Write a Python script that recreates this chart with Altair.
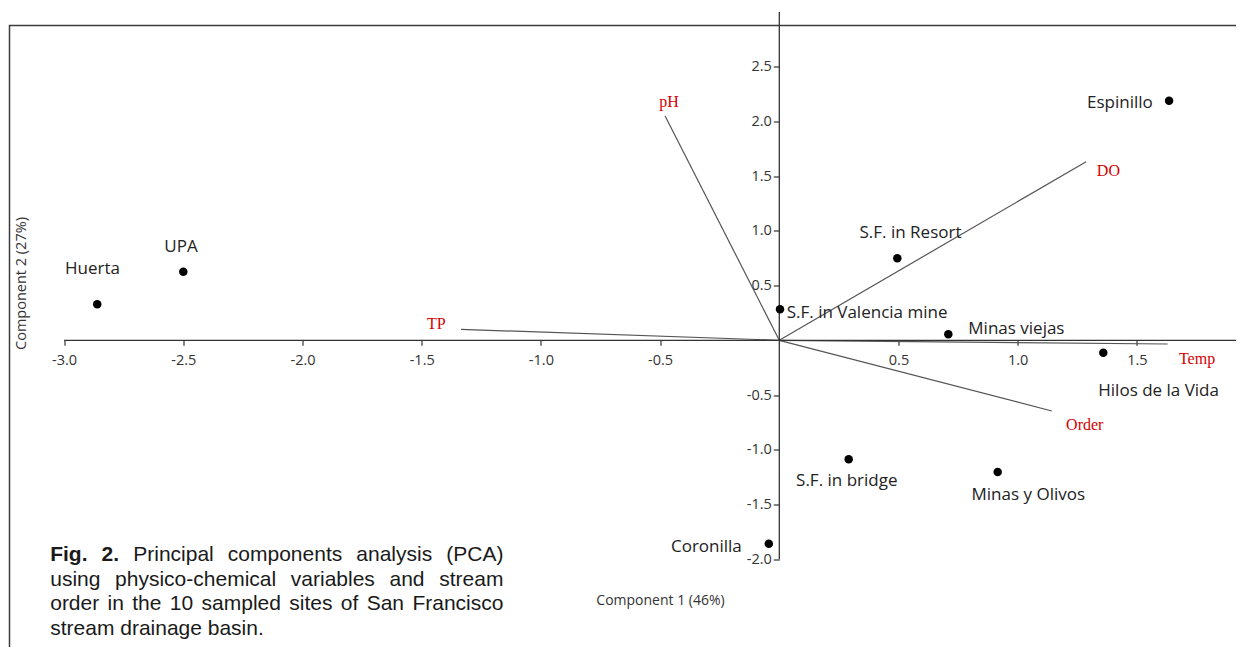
import altair as alt
import pandas as pd

# ---------------- data ----------------
sites = ["Huerta", "UPA", "S.F. in Valencia mine", "S.F. in Resort", "Minas viejas",
         "Espinillo", "Hilos de la Vida", "S.F. in bridge", "Minas y Olivos", "Coronilla"]
site_pc1 = [-2.861, -2.500, 0.003, 0.495, 0.709, 1.635, 1.359, 0.291, 0.916, -0.044]
site_pc2 = [0.329, 0.627, 0.283, 0.749, 0.055, 2.189, -0.113, -1.087, -1.203, -1.859]

variables = ["pH", "DO", "TP", "Temp", "Order"]
var_pc1 = [-0.479, 1.287, -1.335, 1.629, 1.143]
var_pc2 = [2.050, 1.632, 0.100, -0.034, -0.646]

x_ticks = [-3.0, -2.5, -2.0, -1.5, -1.0, -0.5, 0.5, 1.0, 1.5]
y_ticks = [-2.0, -1.5, -1.0, -0.5, 0.5, 1.0, 1.5, 2.0, 2.5]
y_axis_top = 3.0

x_title = "Component 1 (46%)"
y_title = "Component 2 (27%)"

caption_lines = [
    "Fig. 2. Principal components analysis (PCA)",
    "using physico-chemical variables and stream",
    "order in the 10 sampled sites of San Francisco",
    "stream drainage basin.",
]
caption_bold_words = 2

# ---------------- label placement (styling, pixels) ----------------
site_label_style = {
    "Huerta": ("center", -4.8, -35.0),
    "UPA": ("center", -2.3, -25.0),
    "S.F. in Valencia mine": ("left", 6.7, 3.4),
    "S.F. in Resort": ("center", 13.2, -25.0),
    "Minas viejas": ("left", 20.0, -5.0),
    "Espinillo": ("right", -16.3, 2.0),
    "Hilos de la Vida": ("left", -5.0, 38.3),
    "S.F. in bridge": ("center", -1.9, 21.7),
    "Minas y Olivos": ("center", 30.6, 23.0),
    "Coronilla": ("right", -27.0, 3.6),
}
var_label_style = {
    "pH": ("center", 3.8, -14.3),
    "DO": ("left", 10.7, 9.0),
    "TP": ("right", -15.3, -5.0),
    "Temp": ("left", 11.3, 15.3),
    "Order": ("left", 14.3, 14.0),
}

# ---------------- layout ----------------
W, H = 1250, 660            # plot area (frame) - extends past the page edge
SVG_W, SVG_H = 1228, 639
PAD_L, PAD_T = 1.5, 17.5
X0, SX = 769.8, 238.4       # view px of PC1 = 0, px per unit
Y0, SY = 314.8, 109.44      # view px of PC2 = 0, px per unit

x_dom = [-X0 / SX, (W - X0) / SX]
y_dom = [-(H - Y0) / SY, Y0 / SY]
xs = alt.Scale(domain=x_dom, nice=False, zero=False)
ys = alt.Scale(domain=y_dom, nice=False, zero=False)

AX_COLOR = "#333333"
lab_expr = "replace(format(datum.value, '.1f'), '\u2212', '-')"

x_axis = alt.Axis(values=x_ticks, labelExpr=lab_expr, domain=False, grid=False,
                  ticks=True, tickSize=5, tickColor=AX_COLOR, tickWidth=1.2,
                  labelFont="Open Sans", labelFontSize=14.5, labelColor=AX_COLOR,
                  labelPadding=8, labelOverlap=False, labelFlush=False,
                  offset=-(H - Y0),
                  title=x_title, titleFont="Open Sans", titleFontSize=14,
                  titleFontWeight="normal", titleColor=AX_COLOR,
                  titleX=660 - 9.5, titleY=259.7, titleAlign="center",
                  titleBaseline="middle")
y_axis = alt.Axis(values=y_ticks, labelExpr=lab_expr, domain=False, grid=False,
                  ticks=True, tickSize=6, tickColor=AX_COLOR, tickWidth=1.2,
                  labelFont="Open Sans", labelFontSize=14.5, labelColor=AX_COLOR,
                  labelPadding=2, labelOverlap=False, labelFlush=False,
                  offset=-X0,
                  title=y_title, titleFont="Open Sans", titleFontSize=14.5,
                  titleFontWeight="normal", titleColor=AX_COLOR,
                  titleAngle=270, titleX=21 - (X0 + 9.5), titleY=283 - 25.5,
                  titleAlign="center", titleBaseline="middle")


def X(f):
    return alt.X(f, type="quantitative", scale=xs, axis=x_axis)


def Y(f):
    return alt.Y(f, type="quantitative", scale=ys, axis=y_axis)


sites_df = pd.DataFrame({"site": sites, "pc1": site_pc1, "pc2": site_pc2})
vars_df = pd.DataFrame({"var": variables, "x0": 0.0, "y0": 0.0,
                        "pc1": var_pc1, "pc2": var_pc2})
axes_df = pd.DataFrame({"x": [x_ticks[0], 0.0], "x2": [x_dom[1], 0.0],
                        "y": [0.0, y_ticks[0]], "y2": [0.0, y_axis_top]})

# axis lines
axis_lines = alt.Chart(axes_df).mark_rule(color=AX_COLOR, strokeWidth=1.3, clip=False).encode(
    x=X("x"), x2="x2", y=Y("y"), y2="y2")

# loading vectors
vectors = alt.Chart(vars_df).mark_rule(color="#555555", strokeWidth=1.2, clip=False).encode(
    x=X("x0"), x2="pc1", y=Y("y0"), y2="pc2")

# site points
points = alt.Chart(sites_df).mark_circle(size=72, color="black", opacity=1).encode(
    x=X("pc1"), y=Y("pc2"))

layers = [vectors, axis_lines, points]

for name, (al, dx, dy) in site_label_style.items():
    layers.append(
        alt.Chart(sites_df).transform_filter(alt.datum.site == name)
        .mark_text(align=al, baseline="middle", dx=dx, dy=dy, font="Open Sans",
                   fontSize=17, color="#222222")
        .encode(x=X("pc1"), y=Y("pc2"), text="site:N"))

for name, (al, dx, dy) in var_label_style.items():
    layers.append(
        alt.Chart(vars_df).transform_filter(alt.datum.var == name)
        .mark_text(align=al, baseline="middle", dx=dx, dy=dy, font="Liberation Serif",
                   fontSize=16, color="#d40000")
        .encode(x=X("pc1"), y=Y("pc2"), text="var:N"))

# ---------------- caption (justified with Arial metrics) ----------------
ARIAL = {' ': 278, '(': 333, ')': 333, '-': 333, '.': 278, '%': 889,
         'A': 667, 'C': 722, 'F': 611, 'P': 667, 'S': 667,
         'a': 556, 'b': 556, 'c': 500, 'd': 556, 'e': 556, 'f': 278, 'g': 556,
         'h': 556, 'i': 222, 'l': 222, 'm': 833, 'n': 556, 'o': 556, 'p': 556,
         'r': 333, 's': 500, 't': 278, 'u': 556, 'v': 500, 'y': 500}
ARIAL_B = {' ': 278, '.': 278, 'F': 611, 'i': 278, 'g': 611}
CAP_SIZE = 21
CAP_L, CAP_R = 50.2 - PAD_L - 8, 503.4 - PAD_L - 8
CAP_Y0, CAP_LH = 555.0 - PAD_T - 8, 24.6


def tw(word, bold):
    tbl = ARIAL_B if bold else ARIAL
    return sum(tbl.get(ch, 556) for ch in word) * CAP_SIZE / 1000.0


rows = []
for i, line in enumerate(caption_lines):
    words = line.split(" ")
    nb = caption_bold_words if i == 0 else 0
    widths = [tw(w, j < nb) for j, w in enumerate(words)]
    if i < len(caption_lines) - 1 and len(words) > 1:
        gap = (CAP_R - CAP_L - sum(widths)) / (len(words) - 1)
    else:
        gap = ARIAL[' '] * CAP_SIZE / 1000.0
    xpos = CAP_L
    for j, w in enumerate(words):
        rows.append({"word": w, "px": xpos, "py": CAP_Y0 + i * CAP_LH, "bold": j < nb})
        xpos += widths[j] + gap
cap_df = pd.DataFrame(rows)

for is_bold in (True, False):
    layers.append(
        alt.Chart(cap_df).transform_filter(alt.datum.bold == is_bold)
        .mark_text(align="left", baseline="middle", font="Liberation Sans",
                   fontSize=CAP_SIZE, fontWeight="bold" if is_bold else "normal",
                   color="#1a1a1a")
        .encode(x=alt.X("px:Q", scale=None, axis=None),
                y=alt.Y("py:Q", scale=None, axis=None),
                text="word:N"))

chart = alt.layer(*layers).properties(
    width=W, height=H,
    autosize=alt.AutoSizeParams(type="none"),
    padding={"left": PAD_L, "top": PAD_T,
             "right": SVG_W - W - PAD_L, "bottom": SVG_H - H - PAD_T},
    background="white",
).configure_view(stroke="#3c3c3c", strokeWidth=1.5)

chart.save("out.html", embed_options={"renderer": "svg", "actions": False})
